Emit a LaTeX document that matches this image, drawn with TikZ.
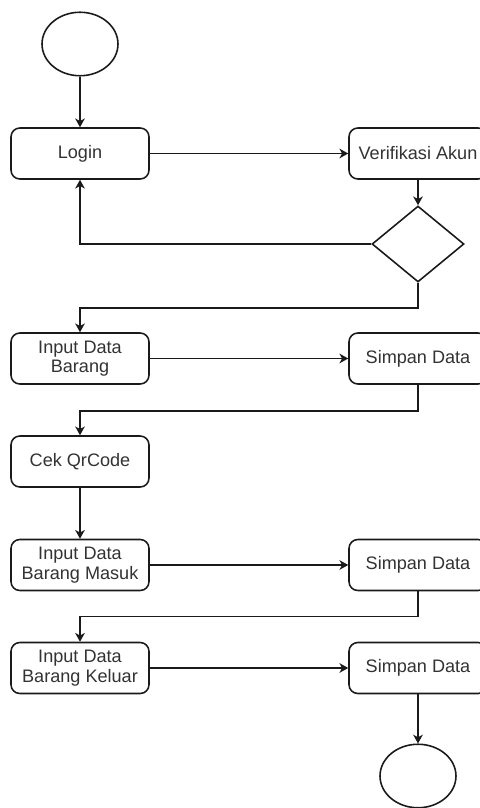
\documentclass[tikz,border=0pt]{standalone}
\usepackage{fontspec}
\setmainfont{Liberation Sans}
\usepackage{tikz}
\usetikzlibrary{arrows.meta,positioning,shapes.geometric}
\definecolor{inkdark}{HTML}{1A1A1A}
\definecolor{textdark}{HTML}{333333}
\tikzset{
  actbox/.style={draw=inkdark, fill=white, rounded corners=5pt,
    minimum width=2.76cm, minimum height=1.02cm, inner sep=1pt,
    align=center, text=textdark, line width=0.9pt,
    font=\fontsize{10.3}{11.2}\selectfont},
  termnode/.style={draw=inkdark, fill=white, ellipse, inner sep=0pt,
    minimum width=1.52cm, minimum height=1.27cm, line width=0.9pt},
  decide/.style={draw=inkdark, fill=white, diamond, inner sep=0pt,
    minimum width=1.84cm, minimum height=1.52cm, line width=0.9pt},
  flow/.style={-{Stealth[length=5pt,width=5.5pt,inset=1.5pt]},
    line width=0.9pt, color=inkdark},
}
\begin{document}
\begin{tikzpicture}[x=0.02cm,y=-0.02cm]
  \useasboundingbox (0,0) rectangle (480,808);
  % nodes
  \node[termnode] (start) at (80,44) {};
  \node[actbox] (login) at (80,153.5) {Login};
  \node[actbox] (verif) at (418,153.5) {Verifikasi Akun};
  \node[decide] (dec) at (418,244) {};
  \node[actbox] (barang) at (80,358.5) {Input Data\\Barang};
  \node[actbox] (simpanA) at (418,358.5) {Simpan Data};
  \node[actbox] (cek) at (80,461.5) {Cek QrCode};
  \node[actbox] (masuk) at (80,565) {Input Data\\Barang Masuk};
  \node[actbox] (simpanB) at (418,565) {Simpan Data};
  \node[actbox] (keluar) at (80,668) {Input Data\\Barang Keluar};
  \node[actbox] (simpanC) at (418,668) {Simpan Data};
  \node[termnode] (stop) at (418,776) {};
  % connectors
  \draw[flow] (start) -- (login);
  \draw[flow] (login) -- (verif);
  \draw[flow] (verif) -- (dec);
  \draw[flow] (dec.west) -| (login.south);
  \draw[flow] (dec.south) -- ++(0,25) -| (barang.north);
  \draw[flow] (barang) -- (simpanA);
  \draw[flow] (simpanA.south) -- ++(0,26) -| (cek.north);
  \draw[flow] (cek) -- (masuk);
  \draw[flow] (masuk) -- (simpanB);
  \draw[flow] (simpanB.south) -- ++(0,25) -| (keluar.north);
  \draw[flow] (keluar) -- (simpanC);
  \draw[flow] (simpanC) -- (stop);
\end{tikzpicture}
\end{document}
